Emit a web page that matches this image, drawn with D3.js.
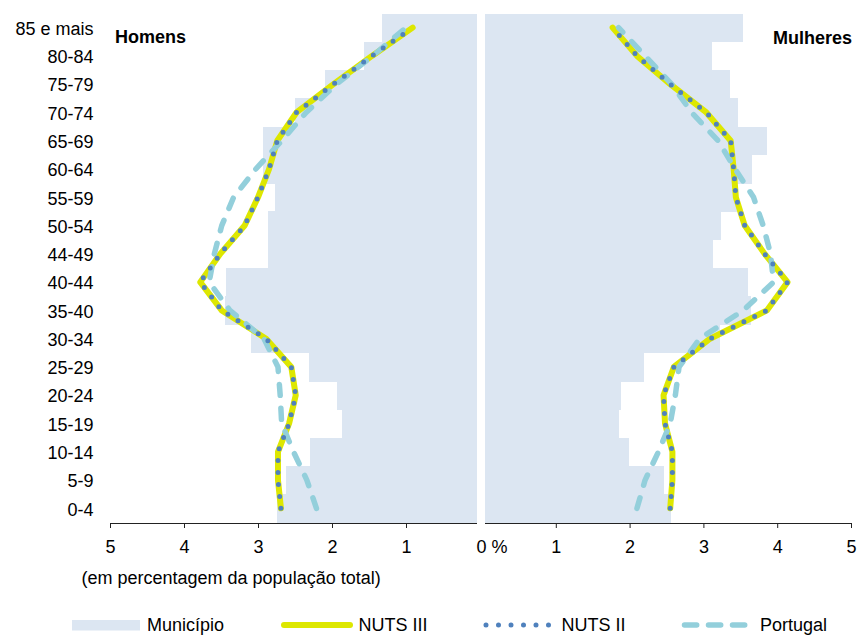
<!DOCTYPE html>
<html><head><meta charset="utf-8">
<script src="https://cdn.jsdelivr.net/npm/d3@7"></script>
<style>
body{margin:0;background:#fff}
text{font-family:"Liberation Sans",Arial,sans-serif;fill:#000}
</style>
</head><body><svg id="c" width="857" height="636"></svg>
<script>
// Age groups, bottom to top
const ageGroups = ["0-4","5-9","10-14","15-19","20-24","25-29","30-34","35-40","40-44","44-49","50-54","55-59","60-64","65-69","70-74","75-79","80-84","85 e mais"];

// Homens (% of total population)
const municipioH = [2.74, 2.62, 2.30, 1.86, 1.93, 2.31, 3.09, 3.45, 3.43, 2.86, 2.86, 2.77, 2.93, 2.93, 2.50, 2.09, 1.57, 1.32];
const nuts3H     = [2.69, 2.73, 2.73, 2.58, 2.49, 2.55, 2.89, 3.49, 3.78, 3.51, 3.18, 3.00, 2.85, 2.74, 2.48, 1.98, 1.46, 0.91];
const nuts2H     = [2.69, 2.73, 2.73, 2.58, 2.49, 2.55, 2.89, 3.49, 3.78, 3.51, 3.18, 3.00, 2.85, 2.74, 2.48, 1.98, 1.46, 0.91];
const portugalH  = [2.21, 2.34, 2.52, 2.68, 2.70, 2.73, 2.92, 3.38, 3.66, 3.59, 3.49, 3.33, 3.03, 2.68, 2.35, 1.94, 1.45, 1.00];

// Mulheres
const municipioM = [2.56, 2.46, 1.99, 1.86, 1.88, 2.19, 3.22, 3.64, 3.60, 3.13, 3.24, 3.45, 3.66, 3.86, 3.47, 3.36, 3.12, 3.53];
const nuts3M     = [2.55, 2.58, 2.58, 2.48, 2.46, 2.60, 3.09, 3.86, 4.14, 3.83, 3.56, 3.44, 3.41, 3.37, 3.04, 2.55, 2.10, 1.77];
const nuts2M     = [2.55, 2.58, 2.58, 2.48, 2.46, 2.60, 3.09, 3.86, 4.14, 3.83, 3.56, 3.44, 3.41, 3.37, 3.04, 2.55, 2.10, 1.77];
const portugalM  = [2.10, 2.21, 2.39, 2.55, 2.62, 2.67, 2.95, 3.54, 3.95, 3.91, 3.81, 3.68, 3.43, 3.20, 2.84, 2.57, 2.21, 1.85];

const tickValues = [1, 2, 3, 4, 5];
const legendLabels = ["Município", "NUTS III", "NUTS II", "Portugal"];
const panelTitles = ["Homens", "Mulheres"];
const axisNote = "(em percentagem da população total)";

const C = {bar:"#dce6f2", nuts3:"#dde700", nuts2:"#4f81bd", pt:"#93cfdb", axis:"#222"};

const svg = d3.select("#c");
const y = d3.scaleBand().domain(ageGroups).range([522.5, 13.5]).padding(0);
const xL = d3.scaleLinear().domain([0, 5]).range([480, 110]);
const xR = d3.scaleLinear().domain([0, 5]).range([482, 851]);
const axisY = 523;
const lEnd = 477, rStart = 485;

const zip = arr => arr.map((v, i) => ({age: ageGroups[i], v}));

// Bars
svg.append("g").selectAll("rect").data(zip(municipioH)).join("rect")
  .attr("x", d => xL(d.v)).attr("width", d => lEnd - xL(d.v))
  .attr("y", d => y(d.age)).attr("height", y.bandwidth() + 0.5)
  .attr("fill", C.bar).attr("shape-rendering", "crispEdges");
svg.append("g").selectAll("rect").data(zip(municipioM)).join("rect")
  .attr("x", rStart).attr("width", d => xR(d.v) - rStart)
  .attr("y", d => y(d.age)).attr("height", y.bandwidth() + 0.5)
  .attr("fill", C.bar).attr("shape-rendering", "crispEdges");

// Lines
function drawLines(x, n3, n2, pt) {
  const line = d3.line().x(d => x(d.v)).y(d => y(d.age) + y.bandwidth() / 2);
  svg.append("path").datum(zip(n3)).attr("d", line)
    .attr("fill", "none").attr("stroke", C.nuts3).attr("stroke-width", 6)
    .attr("stroke-linejoin", "round").attr("stroke-linecap", "round");
  svg.append("path").datum(zip(pt)).attr("d", line)
    .attr("fill", "none").attr("stroke", C.pt).attr("stroke-width", 5.5)
    .attr("stroke-dasharray", "11,13").attr("stroke-linecap", "round").attr("stroke-linejoin", "round");
  svg.append("path").datum(zip(n2)).attr("d", line)
    .attr("fill", "none").attr("stroke", C.nuts2).attr("stroke-width", 5)
    .attr("stroke-dasharray", "0,12").attr("stroke-linecap", "round");
}
drawLines(xL, nuts3H, nuts2H, portugalH);
drawLines(xR, nuts3M, nuts2M, portugalM);

// Row labels
svg.append("g").selectAll("text").data(ageGroups).join("text")
  .attr("x", 93.5).attr("y", d => y(d) + y.bandwidth() / 2).attr("dy", "0.4em")
  .attr("text-anchor", "end").style("font-size", "18px").text(d => d);

// Axes
function styleAxis(g) {
  g.select(".domain").remove();
  g.selectAll("line").attr("stroke", C.axis);
  g.selectAll("text").attr("y", 29.5).attr("dy", 0)
    .style("font-size", "18px").style("font-family", '"Liberation Sans",Arial,sans-serif').attr("fill", "#000");
}
const gL = svg.append("g").attr("transform", `translate(0,${axisY})`)
  .call(d3.axisBottom(xL).tickValues(tickValues).tickSize(5).tickSizeOuter(0).tickFormat(d3.format("d")));
styleAxis(gL);
const gR = svg.append("g").attr("transform", `translate(0,${axisY})`)
  .call(d3.axisBottom(xR).tickValues(tickValues).tickSize(5).tickSizeOuter(0).tickFormat(d3.format("d")));
styleAxis(gR);
svg.append("line").attr("x1", xL(5)).attr("x2", lEnd).attr("y1", axisY + 0.5).attr("y2", axisY + 0.5).attr("stroke", C.axis);
svg.append("line").attr("x1", rStart).attr("x2", xR(5)).attr("y1", axisY + 0.5).attr("y2", axisY + 0.5).attr("stroke", C.axis);
svg.append("text").attr("x", 476.5).attr("y", axisY + 29.5).style("font-size", "18px").text("0 %");

svg.append("text").attr("x", 81.5).attr("y", 583.5).style("font-size", "18px").text(axisNote);

// Titles
svg.append("text").attr("x", 115).attr("y", 42.5).style("font-size", "18px").style("font-weight", "bold").text(panelTitles[0]);
svg.append("text").attr("x", 852).attr("y", 44).attr("text-anchor", "end").style("font-size", "18px").style("font-weight", "bold").text(panelTitles[1]);

// Legend
const lg = svg.append("g");
const ly = 625, lty = 630.5;
lg.append("rect").attr("x", 72).attr("y", 620).attr("width", 68).attr("height", 10.5).attr("fill", C.bar);
lg.append("text").attr("x", 147).attr("y", lty).style("font-size", "18px").text(legendLabels[0]);
lg.append("line").attr("x1", 284).attr("x2", 350).attr("y1", ly).attr("y2", ly)
  .attr("stroke", C.nuts3).attr("stroke-width", 6).attr("stroke-linecap", "round");
lg.append("text").attr("x", 358.5).attr("y", lty).style("font-size", "18px").text(legendLabels[1]);
lg.append("line").attr("x1", 486).attr("x2", 549).attr("y1", ly).attr("y2", ly)
  .attr("stroke", C.nuts2).attr("stroke-width", 5).attr("stroke-dasharray", "0,12.5").attr("stroke-linecap", "round");
lg.append("text").attr("x", 561.5).attr("y", lty).style("font-size", "18px").text(legendLabels[2]);
lg.append("line").attr("x1", 684.5).attr("x2", 745).attr("y1", ly).attr("y2", ly)
  .attr("stroke", C.pt).attr("stroke-width", 5.5).attr("stroke-dasharray", "12.2,11.8").attr("stroke-linecap", "round");
lg.append("text").attr("x", 760).attr("y", lty).style("font-size", "18px").text(legendLabels[3]);
</script>
</body></html>
